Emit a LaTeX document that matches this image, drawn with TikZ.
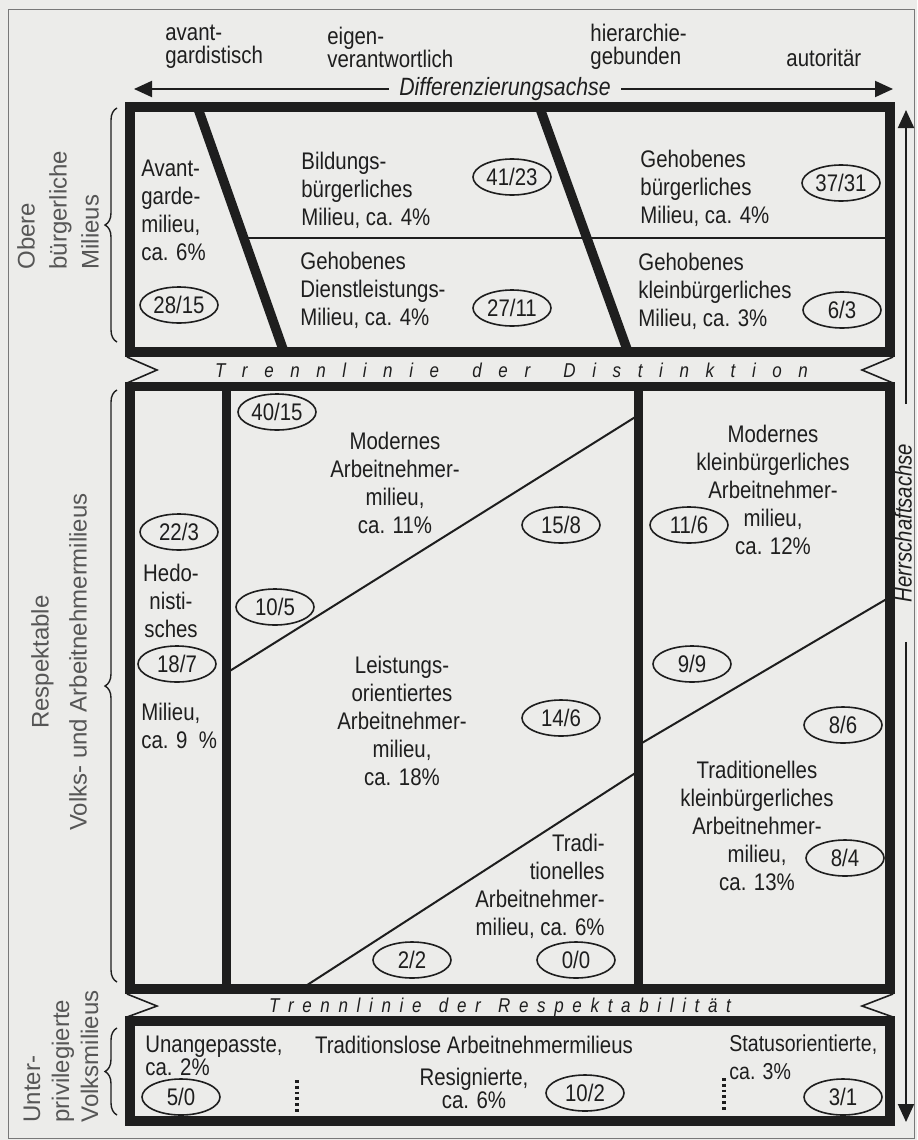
\documentclass[tikz,border=0pt]{standalone}
\usepackage{fontspec}
\setmainfont{Liberation Sans}[FakeStretch=0.85]
\newfontfamily\widefont{Liberation Sans}
\usetikzlibrary{shapes.geometric,arrows.meta,decorations.pathreplacing}
\definecolor{paper}{RGB}{236,236,234}
\definecolor{ink}{RGB}{30,30,30}
\definecolor{framegray}{RGB}{120,120,120}
\tikzset{every node/.style={inner sep=0pt,text=ink,font=\fontsize{12}{14}\selectfont}}
\tikzset{lt/.style={align=left,anchor=west}}
\tikzset{ct/.style={align=center}}
\tikzset{rt/.style={align=right,anchor=east}}
\tikzset{tight/.style={font=\fontsize{12}{11.5}\selectfont}}
\tikzset{num/.style={ellipse,draw=ink,line width=0.8pt,minimum width=39pt,minimum height=18pt}}
\tikzset{wall/.style={ink,line width=4.75pt}}
\tikzset{seam/.style={ink,line width=1pt}}
\tikzset{notch/.style={ink,line width=0.8pt}}
\tikzset{dots/.style={ink,line width=1.7pt,dash pattern=on 1.4pt off 1.5pt}}
\tikzset{axis/.style={ink,line width=1pt,-{Triangle[length=9pt,width=8pt]}}}
\tikzset{side/.style={rotate=90,text=ink!75}}
\tikzset{bracket/.style={ink,line width=0.7pt,decorate,decoration={brace,amplitude=6pt}}}
\tikzset{trenn/.style={font=\fontsize{10}{11}\selectfont\itshape}}

\begin{document}
\begin{tikzpicture}[x=0.5pt,y=-0.5pt]
      \useasboundingbox (0,0) rectangle (917,1140);
      \fill[paper] (0,0) rectangle (917,1140);
      \draw[framegray,line width=0.6pt] (8.5,9.5) rectangle (914.5,1138.5);

      \node[lt,tight] (avant) at (165,47) {avant-\\gardistisch};
      \node[lt,tight] (eigen) at (327,47) {eigen-\\verantwortlich};
      \node[lt,tight] (hier) at (590,47) {hierarchie-\\gebunden};
      \node[lt] (auto) at (786,58) {autoritär};
      \node[inner xsep=5pt,font=\fontsize{12.5}{14}\selectfont\itshape] (diff) at (505,89) {Differenzierungsachse};
      \coordinate (diffL) at (134,89);
      \coordinate (diffR) at (893,89);
      \draw[axis] (diff.west) -- (diffL);
      \draw[axis] (diff.east) -- (diffR);

      \node[rotate=90,inner xsep=19.5pt,font=\fontsize{12}{14}\selectfont\itshape] (herr) at (903,523) {Herrschaftsachse};
      \coordinate (herrT) at (906,110);
      \coordinate (herrB) at (906,1122);
      \draw[axis] (herr.east -| herrT) -- (herrT);
      \draw[axis] (herr.west -| herrB) -- (herrB);

      \draw[seam] (244,238) -- (890,238);
      \draw[seam] (226.5,673) -- (638.5,415);
      \draw[seam] (301,989) -- (638.5,771);
      \draw[seam] (638.5,745) -- (890,597);
      \draw[wall] (130,107) rectangle (890,352);
      \draw[wall] (130,386.5) rectangle (890,989);
      \draw[wall] (130,1021) rectangle (890,1121);
      \foreach \a/\b/\c/\d in {197.5/107/284/352, 539.5/107/628/352, 226.5/386.5/226.5/989, 638.5/386.5/638.5/989}
        \draw[wall] (\a,\b) -- (\c,\d);
      \foreach \yt/\ym/\yb in {357/370/383, 994/1006/1017}
      {
        \draw[notch] (127,\yt) -- (157,\ym) -- (127,\yb);
        \draw[notch] (893,\yt) -- (862,\ym) -- (893,\yb);
      }
      \draw[dots] (297,1080) -- (297,1114);
      \draw[dots] (724,1078) -- (724,1110);

      \node[trenn] (trennD) at (511.5,370)
        {\makebox[296.5pt][s]{T r e n n l i n i e\ \ d e r\ \ D i s t i n k t i o n}};
      \node[trenn] (trennR) at (500,1007)
        {\makebox[231pt][s]{T r e n n l i n i e\ \ d e r\ \ R e s p e k t a b i l i t ä t}};

      \foreach \a/\b in {342/108, 982/390, 1115/1028}
        \draw[bracket] (117,\a) -- (117,\b);
      \node[side,lt,font=\widefont\fontsize{12}{16}\selectfont] (obere) at (58,270) {Obere\\bürgerliche\\Milieus};
      \node[side,ct,font=\widefont\fontsize{12}{19}\selectfont] (respekt) at (59,662) {Respektable\\Volks- und Arbeitnehmermilieus};
      \node[side,lt,font=\widefont\fontsize{12}{14.5}\selectfont] (unter) at (61,1123) {Unter-\\privilegierte\\Volksmilieus};

      \node[lt] (avmil) at (141,210) {Avant-\\garde-\\milieu,\\ca. 6\%};
      \node[num] (n2815) at (179,305) {28/15};
      \node[lt] (bild) at (301,190) {Bildungs-\\bürgerliches\\Milieu, ca. 4\%};
      \node[num] (n4123) at (512,177) {41/23};
      \node[lt] (gehbg) at (640,188) {Gehobenes\\bürgerliches\\Milieu, ca. 4\%};
      \node[num] (n3731) at (841,183) {37/31};
      \node[lt] (dienst) at (300,290) {Gehobenes\\Dienstleistungs-\\Milieu, ca. 4\%};
      \node[num] (n2711) at (512,308) {27/11};
      \node[lt] (gehkb) at (638,291) {Gehobenes\\kleinbürgerliches\\Milieu, ca. 3\%};
      \node[num] (n63) at (842,310) {6/3};

      \node[num] (n4015) at (277,412) {40/15};
      \node[ct] (modarb) at (395,483) {Modernes\\Arbeitnehmer-\\milieu,\\ca. 11\%};
      \node[num] (n158) at (561,525) {15/8};
      \node[ct] (modkb) at (773,490) {Modernes\\kleinbürgerliches\\Arbeitnehmer-\\milieu,\\ca. 12\%};
      \node[num] (n116) at (689,525) {11/6};
      \node[num] (n223) at (179,532) {22/3};
      \node[ct] (hedo) at (171,601) {Hedo-\\nisti-\\sches};
      \node[num] (n187) at (177,664) {18/7};
      \node[lt] (hedmil) at (141,726) {Milieu,\\ca. 9~~\%};
      \node[num] (n105) at (275,607) {10/5};
      \node[ct] (leist) at (402,721) {Leistungs-\\orientiertes\\Arbeitnehmer-\\milieu,\\ca. 18\%};
      \node[num] (n146) at (561,718) {14/6};
      \node[num] (n99) at (692,664) {9/9};
      \node[num] (n86) at (843,725) {8/6};
      \node[ct] (tradkb) at (757,826) {Traditionelles\\kleinbürgerliches\\Arbeitnehmer-\\milieu,\\ca. 13\%};
      \node[num] (n84) at (845,858) {8/4};
      \node[rt] (tradarb) at (605,886) {Tradi-\\tionelles\\Arbeitnehmer-\\milieu, ca. 6\%};
      \node[num] (n22) at (412,960) {2/2};
      \node[num] (n00) at (576,960) {0/0};

      \node[lt,tight] (unang) at (145,1056) {Unangepasste,\\ca. 2\%};
      \node[num] (n50) at (181,1097) {5/0};
      \node (tradlos) at (474,1045) {Traditionslose Arbeitnehmermilieus};
      \node[ct,tight] (resig) at (474,1088) {Resignierte,\\ca. 6\%};
      \node[num] (n102) at (585,1093) {10/2};
      \node[lt,font=\fontsize{11.5}{14}\selectfont] (status) at (729,1057) {Statusorientierte,\\ca. 3\%};
      \node[num] (n31) at (843,1097) {3/1};
\end{tikzpicture}
\end{document}
